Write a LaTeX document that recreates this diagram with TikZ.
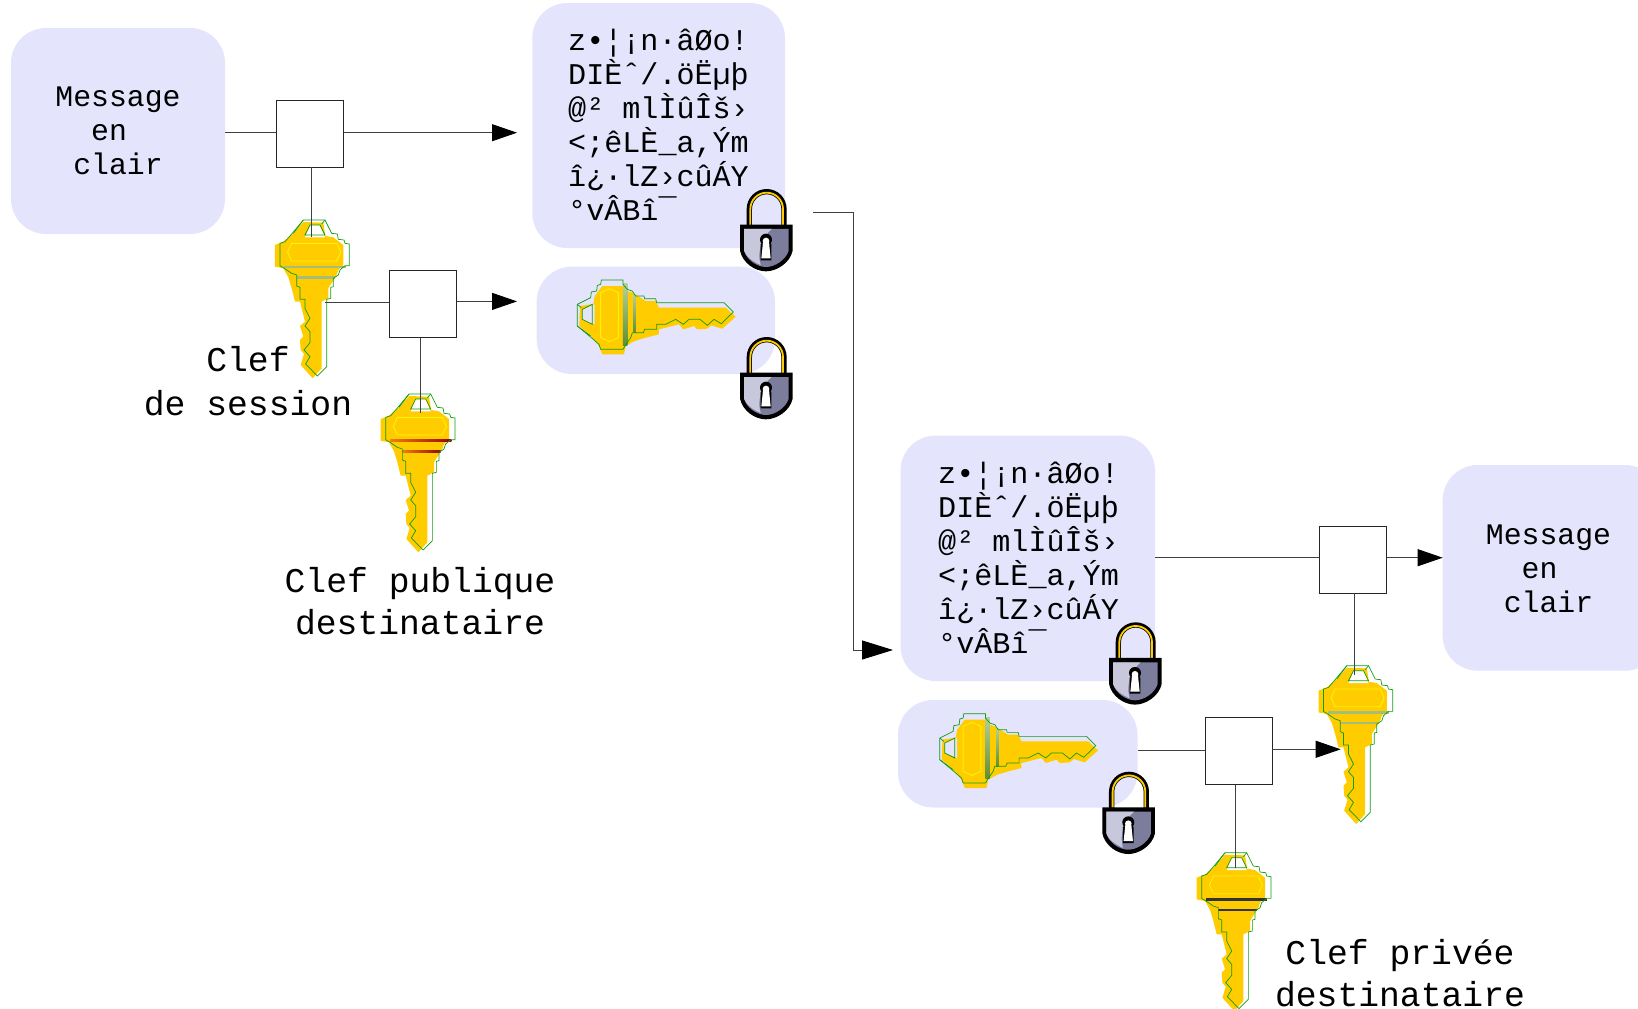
\documentclass[tikz,border=0pt]{standalone}
\usepackage{fontspec}
\setmainfont{Liberation Mono}
\usetikzlibrary{arrows.meta}
\definecolor{boxfill}{HTML}{E4E4FC}
\definecolor{keyyellow}{HTML}{FFCC00}
\definecolor{keygreen}{HTML}{109C10}
\definecolor{bandgreen}{HTML}{A4BE78}
\definecolor{bandlight}{HTML}{B4D098}
\definecolor{banddark}{HTML}{5E9030}
\definecolor{lockgray}{HTML}{7C7C9C}
\definecolor{locklight}{HTML}{C8C8DC}
\tikzset{
  cloud/.style={fill=boxfill,rounded corners=35pt},
  opbox/.style={draw=black!85,line width=.8pt,fill=white,minimum size=67pt,inner sep=0pt},
  conn/.style={draw=black!75,line width=.9pt},
  arr/.style={conn,-{Triangle[length=25pt,width=17pt,color=black]}},
  bigarr/.style={conn,-{Triangle[length=31pt,width=19pt,color=black]}},
  msg/.style={align=center,inner sep=0pt,font=\fontsize{29.8}{34}\selectfont},
  cipher/.style={align=left,inner sep=0pt,font=\fontsize{30.1}{34}\selectfont},
  label/.style={align=center,inner sep=0pt,font=\fontsize{34.7}{42}\selectfont},
  vkey/.style={x={(.3333pt,0pt)},y={(0pt,-.3333pt)}},
  hkey/.style={x={(0pt,.3333pt)},y={(.3333pt,0pt)}},
}
% key drawn in local coordinates (head up, tip down)
% #1,#2 looks of the two bands, #3 extra band thickness, #4 colour seen through the ring
\newcommand{\keyshape}[4]{%
  \fill[keyyellow,line join=miter] (190,66)--(250,68)--(256,108)--(280,112)--(310,135)--(310,195)--(295,210)--(290,225)--(265,265)--(265,295)--(245,305)--(245,505)--(218,535)--(182,495)--(192,462)--(182,450)--(180,420)--(190,410)--(180,378)--(195,365)--(190,345)--(180,305)--(165,305)--(155,265)--(145,232)--(130,205)--(105,200)--(105,135)--(130,125)--(160,100)--cycle;
  \fill[#4] (210,75)--(240,75)--(255,112)--(195,112)--cycle;
  \path[#1] (133,197) rectangle (317,204+#3);
  \path[#2] (170,229) rectangle (285,236);
  \draw[yellow,line width=.9pt] (155,130)--(290,130)--(302,157)--(290,183)--(155,183)--(143,157)--cycle;
  \draw[keygreen,line width=.7pt] (190,60)--(255,60)--(275,100)--(292,102)--(295,118)--(312,120)--(315,130)--(328,132)--(328,197)--(315,197)--(300,210)--(295,225)--(280,235)--(280,260)--(272,262)--(272,295)--(260,298)--(260,500)--(232,528)--(197,492)--(210,470)--(192,450)--(210,428)--(210,395)--(195,378)--(210,355)--(195,325)--(195,298)--(180,298)--(180,262)--(170,258)--(170,225)--(155,220)--(133,205)--(120,197)--(120,130)--(135,125)--(155,102)--cycle;
  \draw[keygreen,line width=.7pt] (210,75)--(195,105)--(255,105)--(240,75)--cycle (190,60)--(160,100) (245,72)--(255,60);
}
% padlock in local coordinates; origin = top left of its box
\newcommand{\padlock}{%
  \draw[black,line width=5.3pt] (28,112)--(28,60) arc[start angle=180,end angle=360,radius=52]--(132,112);
  \draw[keyyellow,line width=1.8pt] (31,108)--(31,60) arc[start angle=180,end angle=360,radius=49]--(129,108);
  \fill[black] (0,107)--(158,107)--(158,185) .. controls (150,222) and (110,247) .. (78,247) .. controls (45,247) and (8,222) .. (0,185)--cycle;
  \fill[lockgray] (12,120)--(146,120)--(146,185) .. controls (138,212) and (105,234) .. (78,234) .. controls (50,234) and (20,212) .. (12,185)--cycle;
  \fill[locklight] (12,120)--(95,120) .. controls (65,145) and (50,190) .. (62,228) .. controls (38,218) and (18,203) .. (12,185)--cycle;
  \fill[black] (78,152) circle[radius=18] (62,165) rectangle (94,214);
  \fill[white] (78,156) circle[radius=10] (69,160) -- (87,160) -- (92,208) -- (64,208) -- cycle;
}
\begin{document}
\begin{tikzpicture}[x=1pt,y=-1pt]
\useasboundingbox (0,0) rectangle (1638,1009);
% rounded boxes
\path[cloud] (11,28) rectangle (225,234);
\path[cloud] (532.3,3) rectangle (785,248);
\path[cloud] (536.7,266.7) rectangle (775,374);
\path[cloud] (900.5,435.6) rectangle (1155,681);
\path[cloud] (898,700) rectangle (1137.5,807.5);
\begin{scope}
\clip (0,0) rectangle (1638,1009);
\path[cloud] (1442.7,465) rectangle (1660,670.7);
\end{scope}
% free ends of the connectors
\coordinate (msgA) at (225,132.7);
\coordinate (cipherA) at (517,132.7);
\coordinate (wrapA) at (517,301.4);
\coordinate (outA) at (813,212);
\coordinate (bend1) at (853,212);
\coordinate (bend2) at (853,650);
\coordinate (cipherB) at (893,650);
\coordinate (cipherBout) at (1155,557.7);
\coordinate (wrapBout) at (1137.5,750);
\coordinate (msgB) at (1442.7,557.7);
\coordinate (keyInA) at (311,237);
\coordinate (keyOutA) at (325,302);
\coordinate (keyInB) at (420,413);
\coordinate (keyInC) at (1354.3,675);
\coordinate (keyOutC) at (1340.7,749.3);
\coordinate (keyInD) at (1235.7,868);
% keys
\begin{scope}[shift={(240,200)},vkey]
 \keyshape{fill=bandgreen}{fill=bandgreen}{0}{white}
\end{scope}
\begin{scope}[shift={(345.7,374)},vkey]
 \keyshape{left color=orange!80!brown,right color=red!60!black}{left color=orange!80!brown,right color=red!60!black}{0}{white}
\end{scope}
\begin{scope}[shift={(1283.5,645.7)},vkey]
 \keyshape{fill=bandgreen}{fill=bandgreen}{0}{white}
\end{scope}
\begin{scope}[shift={(1161.7,832.7)},vkey]
 \keyshape{fill=black!80}{fill=black!80}{1}{white}
\end{scope}
\begin{scope}[shift={(557.33,389.33)},hkey]
 \keyshape{top color=bandlight,bottom color=banddark}{top color=bandlight,bottom color=banddark}{6}{boxfill}
\end{scope}
\begin{scope}[shift={(919.8,823)},hkey]
 \keyshape{top color=bandlight,bottom color=banddark}{top color=bandlight,bottom color=banddark}{6}{boxfill}
\end{scope}
% operator squares
\node[opbox] (sqA) at (310.3,133.5) {};
\node[opbox] (sqB) at (422.8,304) {};
\node[opbox] (sqC) at (1353,559.5) {};
\node[opbox] (sqD) at (1238.5,751) {};
% connectors
\draw[conn] (msgA) -- (msgA -| sqA.west);
\draw[arr] (msgA -| sqA.east) -- (cipherA);
\draw[conn] (sqA.south -| keyInA) -- (keyInA);
\draw[conn] (keyOutA) -- (keyOutA -| sqB.west);
\draw[arr] (wrapA -| sqB.east) -- (wrapA);
\draw[conn] (sqB.south -| keyInB) -- (keyInB);
\draw[bigarr] (outA) -- (bend1) -- (bend2) -- (cipherB);
\draw[conn] (cipherBout) -- (cipherBout -| sqC.west);
\draw[arr] (msgB -| sqC.east) -- (msgB);
\draw[conn] (sqC.south -| keyInC) -- (keyInC);
\draw[conn] (wrapBout) -- (wrapBout -| sqD.west);
\draw[arr] (keyOutC -| sqD.east) -- (keyOutC);
\draw[conn] (sqD.south -| keyInD) -- (keyInD);
% padlocks
\begin{scope}[shift={(740,189)},vkey]\padlock\end{scope}
\begin{scope}[shift={(740,337)},vkey]\padlock\end{scope}
\begin{scope}[shift={(1109,622.3)},vkey]\padlock\end{scope}
\begin{scope}[shift={(1102.3,771.7)},vkey]\padlock\end{scope}
% texts
\node[msg] (tA) at (118,131) {Message\\en\phantom{x}\\clair};
\node[msg] (tB) at (1548.5,569) {Message\\en\phantom{x}\\clair};
\node[cipher,anchor=north west] (cA) at (568,29) {z•¦¡n·âØo!\\DIÈˆ/.öËµþ\\@² mlÌûÎš›\\<;êLÈ\_a,Ým\\î¿·lZ›cûÁY\\°vÂBî¯};
\node[cipher,anchor=north west] (cB) at (938,462) {z•¦¡n·âØo!\\DIÈˆ/.öËµþ\\@² mlÌûÎš›\\<;êLÈ\_a,Ým\\î¿·lZ›cûÁY\\°vÂBî¯};
\node[label] (lA) at (248,381) {Clef\\[1.4pt]de session};
\node[label] (lB) at (420,601) {Clef publique\\destinataire};
\node[label] (lC) at (1400,973.5) {Clef privée\\destinataire};
\end{tikzpicture}
\end{document}
